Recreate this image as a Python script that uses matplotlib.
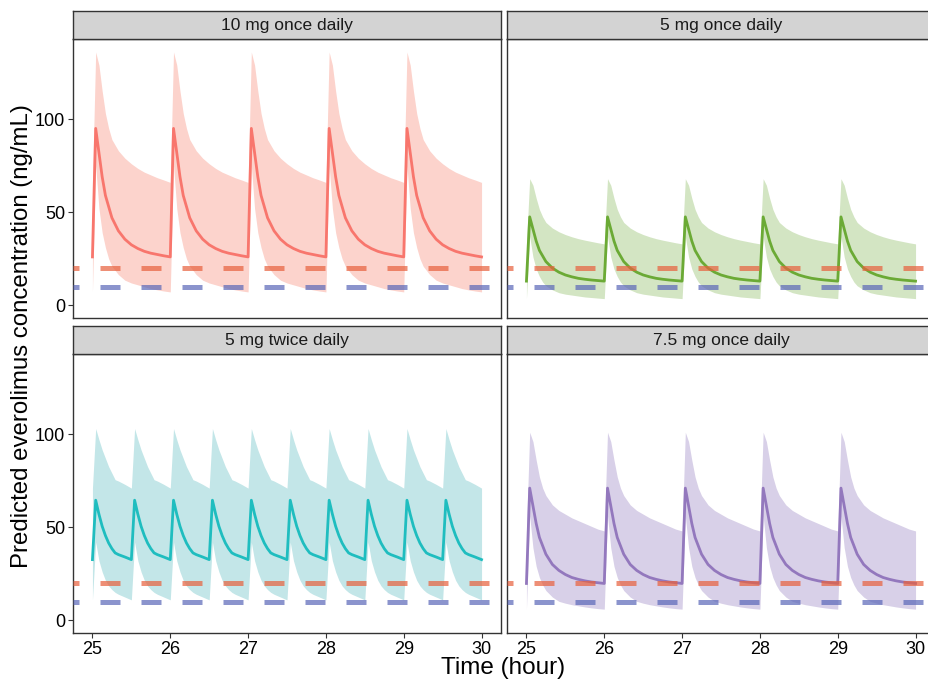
import matplotlib
matplotlib.use('Agg')
import matplotlib.pyplot as plt

# ---------------------------------------------------------------------------
# values (one dosing interval each, repeated per dose)
# ---------------------------------------------------------------------------
panel_titles = ['10 mg once daily', '5 mg once daily', '5 mg twice daily', '7.5 mg once daily']

hours_qd = [0, 1, 2, 3, 4, 5, 6, 8, 10, 12, 14, 16, 18, 20, 22, 24]
hours_bid = [0, 1, 2, 3, 4, 5, 6, 7, 8, 10, 12]

dose_qd = [25, 26, 27, 28, 29]
dose_bid = [25, 25.5, 26, 26.5, 27, 27.5, 28, 28.5, 29, 29.5]

med_10 = [26, 95, 82, 69, 59, 53, 47, 40, 35.5, 32.5, 30.5, 29, 28, 27.3, 26.6, 26]
lo_10 = [7.2, 75, 52, 39, 31, 25, 21, 16.5, 13.5, 12, 11, 10, 9, 8.3, 7.7, 7.2]
hi_10 = [66, 136, 129, 115, 103, 95, 89, 83, 79, 76, 73.5, 71.5, 70, 68.5, 67.3, 66]

med_5 = [13, 47.5, 41, 34.5, 29.5, 26.5, 23.5, 20, 17.8, 16.3, 15.3, 14.5, 14, 13.6, 13.3, 13]
lo_5 = [3.6, 37, 26, 19.5, 15.5, 12.5, 10.5, 8.3, 6.8, 6, 5.5, 5, 4.5, 4.2, 3.9, 3.6]
hi_5 = [33, 68, 64.5, 57.5, 51.5, 47.5, 44.5, 41.5, 39.5, 38, 36.8, 35.8, 35, 34.3, 33.6, 33]

med_bid = [32.6, 64.5, 57, 50.5, 45.5, 41.5, 38.5, 36.2, 35.3, 34, 32.6]
lo_bid = [11, 42, 32, 26, 21.5, 18.5, 16.5, 15, 14, 12.5, 11]
hi_bid = [71, 103, 97, 91.5, 87, 82.5, 79, 75.5, 74.8, 73, 71]

med_75 = [19.8, 71, 61.5, 52, 44.5, 40, 35.5, 30, 26.8, 24.6, 23, 22, 21.2, 20.6, 20.2, 19.8]
lo_75 = [6, 56, 39, 29, 23, 19, 16, 12.5, 10.2, 9.2, 8.4, 7.8, 7.2, 6.7, 6.3, 6]
hi_75 = [48, 101, 96, 86, 77, 71, 67, 62, 59, 57, 55, 53.5, 52, 50.5, 49, 48]

target_hi = 20
target_lo = 10

line_cols = ['#F8766D', '#6BAA35', '#1FBDBF', '#9378BD']
fill_cols = ['#FCD3CC', '#D3E5C3', '#C3E6E8', '#D8D0E8']


def tile(doses, hours, vals):
   '''repeat one interval profile for every dose; first dose keeps its pre-dose point'''
   t, v = [], []
   for i, d in enumerate(doses):
      start = 0 if i == 0 else 1
      for h, y in zip(hours[start:], vals[start:]):
         t.append(d + h / 24.0)
         v.append(y)
   return t, v


panels = [
   (dose_qd, hours_qd, med_10, lo_10, hi_10),
   (dose_qd, hours_qd, med_5, lo_5, hi_5),
   (dose_bid, hours_bid, med_bid, lo_bid, hi_bid),
   (dose_qd, hours_qd, med_75, lo_75, hi_75),
]

plt.rcParams['font.family'] = ['Liberation Sans', 'DejaVu Sans']

W, H = 929, 681
fig = plt.figure(figsize=(W / 100, H / 100), dpi=100)

# pixel boxes: (left, top) of each panel
pw, ph = 428, 279
boxes = [(73, 39), (507, 39), (73, 354), (507, 354)]
strip_h = 28

for k, (doses, hrs, med, lo, hi) in enumerate(panels):
   x0, y0 = boxes[k]
   ax = fig.add_axes([x0 / W, 1 - (y0 + ph) / H, pw / W, ph / H])
   t, m = tile(doses, hrs, med)
   _, l = tile(doses, hrs, lo)
   _, u = tile(doses, hrs, hi)
   ax.fill_between(t, l, u, color=fill_cols[k], lw=0, zorder=1)
   ax.plot(t, m, color=line_cols[k], lw=2.0, zorder=3)
   for yv, c in [(target_hi, '#E8603C'), (target_lo, '#5A67B8')]:
      ax.axhline(yv, color=c, alpha=0.7, lw=3.6, linestyle=(2.8, (4, 4.2)),
                 dash_capstyle='butt', zorder=4)

   ax.set_xlim(24.75, 30.25)
   ax.set_ylim(-6.8, 143)
   ax.set_xticks([25, 26, 27, 28, 29, 30])
   ax.set_yticks([0, 50, 100])
   ax.tick_params(direction='out', length=3.5, width=0.8, color='#333333',
                  labelsize=13, labelcolor='black', pad=2)
   # facet_wrap style: axes only on outer panels
   if k % 2 == 1:
      ax.tick_params(axis='y', left=False, labelleft=False)
   if k < 2:
      ax.tick_params(axis='x', bottom=False, labelbottom=False)
   for s in ax.spines.values():
      s.set_color('#333333')
      s.set_linewidth(1.0)

   # facet strip
   sax = fig.add_axes([x0 / W, 1 - y0 / H, pw / W, strip_h / H])
   sax.set_facecolor('#D3D3D3')
   sax.set_xticks([])
   sax.set_yticks([])
   for s in sax.spines.values():
      s.set_color('#333333')
      s.set_linewidth(1.0)
   sax.text(0.5, 0.48, panel_titles[k], ha='center', va='center',
            fontsize=12.5, color='#1A1A1A', transform=sax.transAxes)

fig.text(503 / W, 1 - 668 / H, 'Time (hour)', ha='center', va='center', fontsize=17.5)
fig.text(22 / W, 1 - 336 / H, 'Predicted everolimus concentration (ng/mL)', ha='center',
         va='center', rotation=90, fontsize=17.3)

plt.savefig('out.png', dpi=100)
